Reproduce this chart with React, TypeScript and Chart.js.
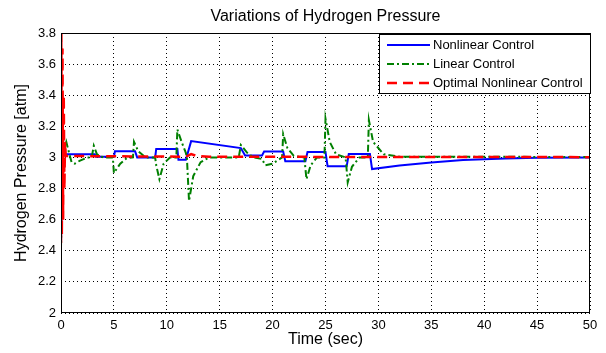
import React, { useEffect, useRef } from "react";
import { Chart, registerables } from "chart.js";

Chart.register(...registerables);

const titleText = "Variations of Hydrogen Pressure";
const xAxisLabel = "Time (sec)";
const yAxisLabel = "Hydrogen Pressure [atm]";
const xTickValues = [0, 5, 10, 15, 20, 25, 30, 35, 40, 45, 50];
const yTickValues = [2, 2.2, 2.4, 2.6, 2.8, 3, 3.2, 3.4, 3.6, 3.8];
const seriesNames = ["Nonlinear Control", "Linear Control", "Optimal Nonlinear Control"];

// Nonlinear Control (blue)
const nonlinearTime = [0, 0.15, 0.3, 3.2, 3.3, 5.0, 5.1, 7.0, 7.2, 8.9, 9.0, 11.0, 11.1, 11.8, 12.3, 17.0, 17.4, 19.0, 19.2, 21.0, 21.2, 23.1, 23.3, 25.0, 25.2, 27.0, 27.2, 29.2, 29.4, 32, 35, 38, 42, 45, 50];
const nonlinearPressure = [2.45, 3.0, 3.02, 3.02, 3.005, 3.005, 3.04, 3.04, 3.0, 3.0, 3.055, 3.055, 2.985, 2.985, 3.105, 3.06, 3.012, 3.012, 3.038, 3.038, 2.975, 2.975, 3.035, 3.035, 2.943, 2.943, 3.022, 3.022, 2.925, 2.948, 2.968, 2.983, 2.993, 2.998, 3.0];

// Linear Control (green)
const linearTime = [0, 0.12, 0.3, 0.5, 0.8, 1.0, 1.3, 1.8, 2.5, 2.9, 3.1, 3.4, 4.0, 4.9, 5.0, 5.6, 6.2, 6.8, 6.9, 7.3, 8.0, 8.9, 9.0, 9.3, 9.7, 10.3, 10.9, 11.0, 11.4, 11.8, 11.9, 12.1, 12.5, 13.2, 14, 16.8, 17.0, 17.6, 18.2, 19.0, 19.3, 20.0, 20.9, 21.0, 21.4, 22, 23, 23.2, 23.6, 24.2, 24.9, 25.0, 25.4, 26, 26.9, 27.1, 27.5, 28.2, 29.0, 29.1, 29.5, 30.5, 32, 50];
const linearPressure = [2.42, 3.0, 3.05, 3.1, 3.02, 2.97, 2.96, 2.98, 3.0, 3.0, 3.075, 3.02, 3.0, 3.0, 2.9, 2.96, 2.995, 3.0, 3.1, 3.04, 3.0, 3.0, 2.95, 2.86, 2.96, 3.0, 3.0, 3.18, 3.1, 3.03, 3.0, 2.72, 2.88, 2.97, 3.0, 3.0, 3.08, 3.03, 3.0, 2.99, 2.95, 2.96, 3.0, 3.15, 3.06, 3.01, 3.0, 2.86, 2.95, 3.0, 3.0, 3.25, 3.1, 3.02, 3.0, 2.84, 2.94, 3.0, 3.0, 3.24, 3.1, 3.02, 3.005, 3.003];

// Optimal Nonlinear Control (red)
const optimalTime = [0, 0.03, 0.08, 0.14, 0.2, 0.26, 0.32, 0.38, 0.45, 3, 11.8, 12.3, 12.8, 14, 20, 30, 50];
const optimalPressure = [2.45, 3.9, 2.5, 3.7, 2.6, 3.4, 2.8, 3.1, 3.01, 3.008, 3.005, 3.022, 3.01, 3.005, 3.004, 3.003, 3.002];

const colors = ["#0000ff", "#008000", "#ff0000"];
const dashes: number[][] = [[], [7, 3, 2, 3], [10, 6]];
const widths = [2, 2, 2.5];

const toPoints = (t: number[], v: number[]) => t.map((x, i) => ({ x, y: v[i] }));

const FONT = "'Liberation Sans', Arial, sans-serif";

const decorPlugin = {
  id: "decor",
  afterDraw(chart: any) {
    const { ctx, chartArea } = chart;
    const { left, right, top, bottom } = chartArea;
    ctx.save();
    // axes box
    ctx.strokeStyle = "#000";
    ctx.lineWidth = 1;
    ctx.setLineDash([]);
    ctx.strokeRect(left + 0.5, top + 0.5, right - left - 1, bottom - top - 1);
    // title
    ctx.fillStyle = "#000";
    ctx.font = `16px ${FONT}`;
    ctx.textAlign = "center";
    ctx.textBaseline = "middle";
    ctx.fillText(titleText, (left + right) / 2, 17);
    // x label
    ctx.font = `16px ${FONT}`;
    ctx.fillText(xAxisLabel, (left + right) / 2, 340);
    // y label
    ctx.save();
    ctx.translate(22, (top + bottom) / 2);
    ctx.rotate(-Math.PI / 2);
    ctx.fillText(yAxisLabel, 0, 0);
    ctx.restore();
    // legend
    const lx = 379, ly = 34, lw = 212, lh = 60;
    ctx.fillStyle = "#fff";
    ctx.fillRect(lx, ly, lw, lh);
    ctx.strokeStyle = "#000";
    ctx.strokeRect(lx + 0.5, ly + 0.5, lw - 1, lh - 1);
    ctx.font = `13px ${FONT}`;
    ctx.textAlign = "left";
    ctx.textBaseline = "middle";
    seriesNames.forEach((name, i) => {
      const y = ly + 11 + i * 19;
      ctx.beginPath();
      ctx.strokeStyle = colors[i];
      ctx.lineWidth = widths[i];
      ctx.setLineDash(dashes[i]);
      ctx.moveTo(387, y);
      ctx.lineTo(430, y);
      ctx.stroke();
      ctx.setLineDash([]);
      ctx.fillStyle = "#000";
      ctx.fillText(name, 433, y);
    });
    ctx.restore();
  },
};

export default function App() {
  const ref = useRef<HTMLCanvasElement>(null);
  useEffect(() => {
    if (!ref.current) return;
    const series = [
      toPoints(nonlinearTime, nonlinearPressure),
      toPoints(linearTime, linearPressure),
      toPoints(optimalTime, optimalPressure),
    ];
    const chart = new Chart(ref.current, {
      type: "line",
      data: {
        datasets: series.map((data, i) => ({
          label: seriesNames[i],
          data,
          borderColor: colors[i],
          backgroundColor: colors[i],
          borderWidth: widths[i],
          borderDash: dashes[i],
          pointRadius: 0,
          tension: 0,
          fill: false,
          order: 3 - i,
        })),
      },
      options: {
        responsive: false,
        animation: false,
        events: [],
        layout: { padding: { top: 33, right: 16, left: 0, bottom: 0 } },
        plugins: {
          legend: { display: false },
          title: { display: false },
          tooltip: { enabled: false },
        },
        scales: {
          x: {
            type: "linear",
            min: 0,
            max: 50,
            afterBuildTicks: (s: any) => {
              s.ticks = xTickValues.map((value) => ({ value }));
            },
            afterFit: (s: any) => {
              s.height = 40;
            },
            ticks: {
              color: "#000",
              font: { family: FONT, size: 13 },
              padding: 5,
              maxRotation: 0,
              autoSkip: false,
              callback: (v: any) => String(v),
            },
            grid: { color: "#000", lineWidth: 1, drawTicks: false },
            border: { display: false, dash: [1, 3] },
          },
          y: {
            type: "linear",
            min: 2,
            max: 3.8,
            afterBuildTicks: (s: any) => {
              s.ticks = yTickValues.map((value) => ({ value }));
            },
            afterFit: (s: any) => {
              s.width = 61;
            },
            ticks: {
              color: "#000",
              font: { family: FONT, size: 13 },
              padding: 5,
              autoSkip: false,
              callback: (v: any) => String(Math.round(Number(v) * 10) / 10),
            },
            grid: { color: "#000", lineWidth: 1, drawTicks: false },
            border: { display: false, dash: [1, 3] },
          },
        },
      },
      plugins: [decorPlugin],
    });
    return () => chart.destroy();
  }, []);
  return (
    <div style={{ position: "fixed", left: 0, top: 0, width: 606, height: 353, background: "#fff" }}>
      <canvas ref={ref} width={606} height={353} style={{ display: "block", width: 606, height: 353 }} />
    </div>
  );
}
